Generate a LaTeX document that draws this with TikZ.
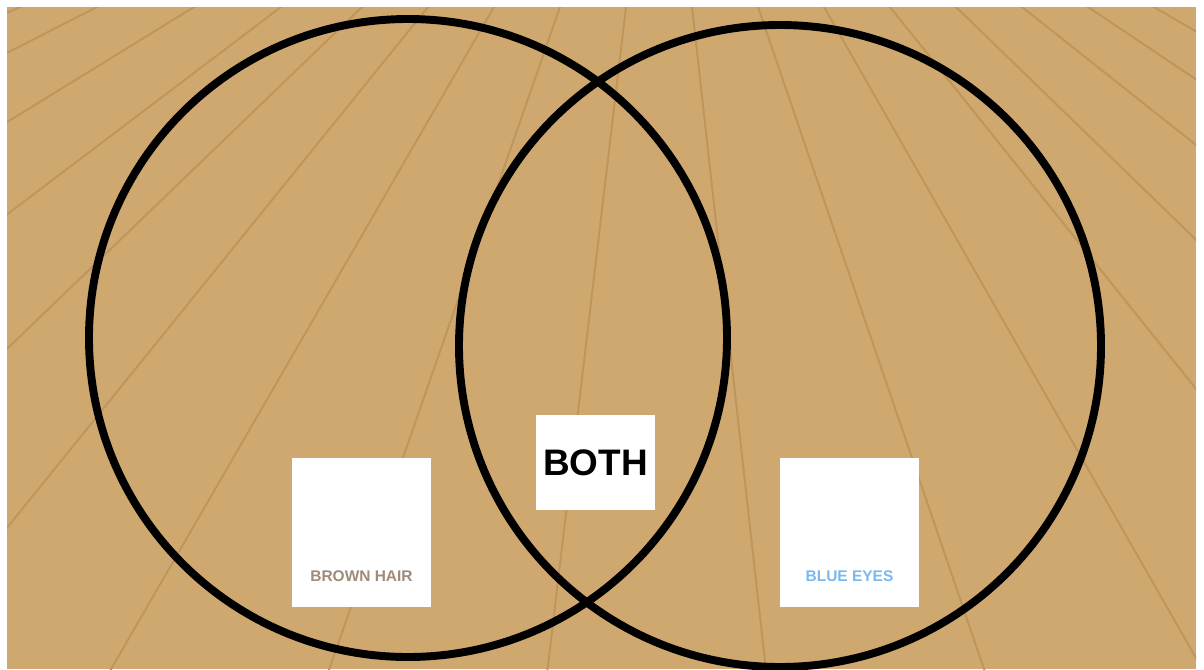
\documentclass[tikz,border=0pt]{standalone}
\usepackage{fontspec}
\setmainfont{Liberation Sans}
\usetikzlibrary{calc,positioning}
\definecolor{floortan}{RGB}{207,168,111}
\definecolor{floorline}{RGB}{191,150,90}
\definecolor{hairbrown}{RGB}{160,138,120}
\definecolor{eyeblue}{RGB}{122,184,238}

\begin{document}
\begin{tikzpicture}[x=0.2mm,y=-0.2mm,
    ring/.style={draw=black,line width=4.5pt},
    board/.style={draw=floorline,line width=1.1pt},
    card/.style={fill=white,inner sep=0pt,minimum width=27.8mm,minimum height=29.8mm},
    midcard/.style={fill=white,inner sep=0pt,minimum width=23.8mm,minimum height=19mm,
                    font=\fontsize{21}{21}\selectfont\bfseries},
    tag/.style={inner sep=0pt,font=\fontsize{8.8}{9}\selectfont\bfseries}
  ]
    \useasboundingbox (0,0) rectangle (1204,669);
    \fill[white] (0,0) rectangle (1204,669);
    % floor and its boards
    \fill[floortan] (7,7) rectangle (1196,669);
    \coordinate (vp) at (660,-280);
    \begin{scope}
      \clip (7,7) rectangle (1196,669);
      \foreach \t in {20,97,194,281,362,428,494,560,626,692,758,824,890,956,1022,1088,1154}
        \draw[board] (vp) -- ($(vp)!4!(\t,7)$);
    \end{scope}
    % the two sets
    \draw[ring] (408,338) circle (319);
    \draw[ring] (780,346) circle (321);
    \node[card] (brown) at (361.5,532.5) {};
    \node[card] (blue) at (849.5,532.5) {};
    \node[midcard] (both) at (595.5,462.5) {BOTH};
    \node[tag,text=hairbrown] (browntag) at ($(brown.south)+(0,-31)$) {BROWN HAIR};
    \node[tag,text=eyeblue] (bluetag) at ($(blue.south)+(0,-31)$) {BLUE EYES};
  \end{tikzpicture}
\end{document}
